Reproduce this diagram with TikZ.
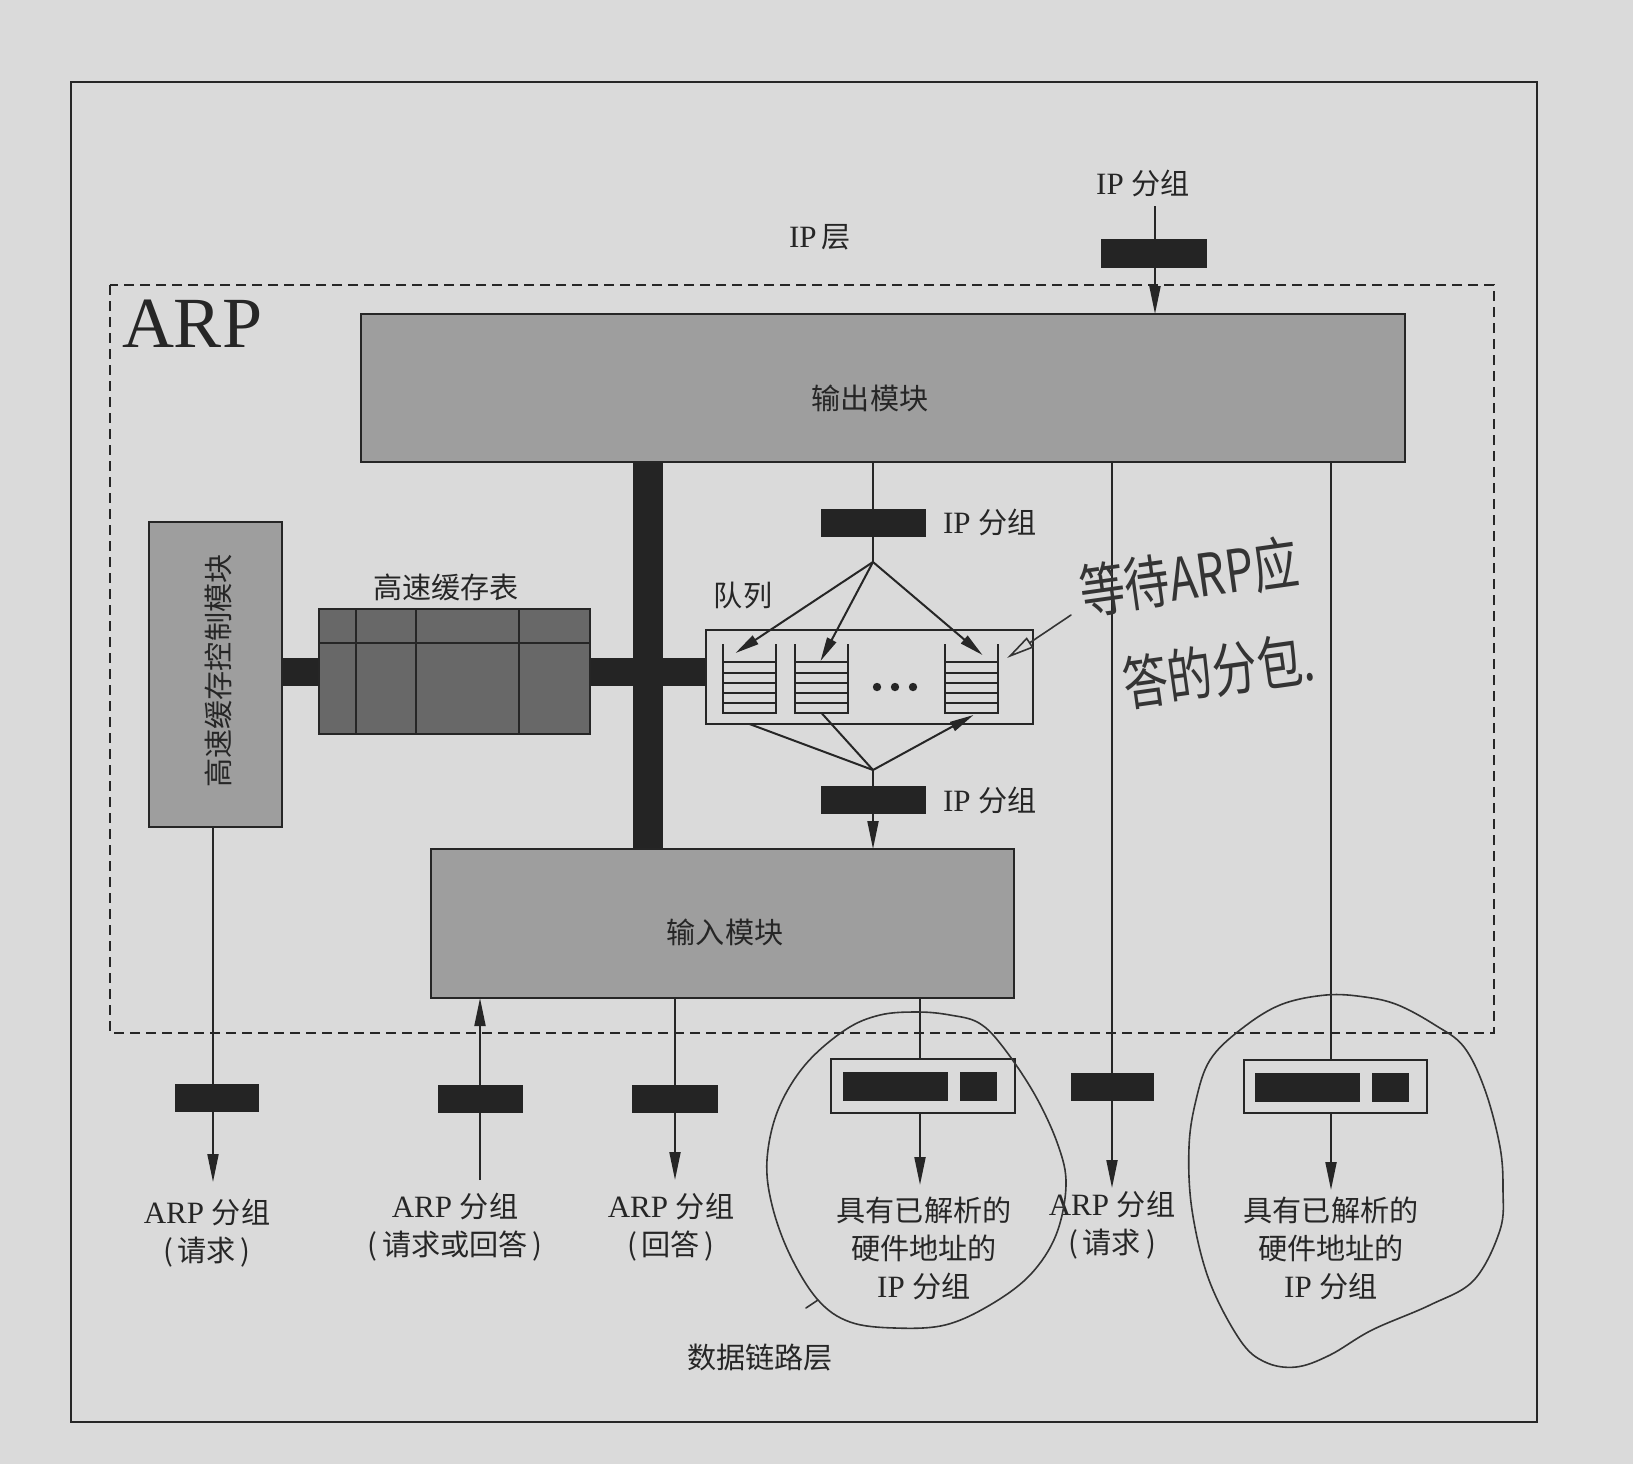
\documentclass[tikz,border=0pt]{standalone}
\usepackage{fontspec}
\setmainfont{Liberation Serif}
\newfontfamily\cjk{Noto Sans CJK SC}[Scale=0.94]
\usetikzlibrary{arrows.meta,calc}
\pgfdeclarelayer{paper}
\pgfdeclarelayer{wires}
\pgfsetlayers{paper,wires,main}
\definecolor{paperbg}{RGB}{218,218,218}
\definecolor{ink}{RGB}{38,38,38}
\definecolor{modfill}{RGB}{158,158,158}
\definecolor{tblfill}{RGB}{104,104,104}
\definecolor{pktfill}{RGB}{36,36,36}
\definecolor{pen}{RGB}{52,52,52}
\begin{document}
\begin{tikzpicture}[x=0.5pt,y=-0.5pt,
  every node/.style={inner sep=0pt,outer sep=0pt,text=ink},
  sz/.style 2 args={minimum width=#1*0.5pt,minimum height=#2*0.5pt},
  module/.style={rectangle,draw=ink,line width=1pt,fill=modfill},
  table/.style={rectangle,draw=ink,line width=1pt,fill=tblfill},
  packet/.style={rectangle,fill=pktfill},
  holder/.style={rectangle,draw=ink,line width=1pt},
  slot/.style={rectangle},
  wire/.style={draw=ink,line width=1pt},
  arr/.style={wire,-{Triangle[length=14pt,width=5.5pt]}},
  farr/.style={wire,-{Triangle[length=12pt,width=5pt]}},
  busline/.style={draw=pktfill,line width=14pt,line cap=butt},
  lbl/.style={font=\fontsize{15.5}{19}\selectfont,align=center},
  hand/.style={draw=pen,line width=0.8pt,line cap=round,line join=round},
  handtext/.style={text=pen,font=\cjk\fontsize{24}{28}\selectfont,rotate=8,yscale=1.3,anchor=west}
]
\useasboundingbox (0,0) rectangle (1633,1464);
\begin{pgfonlayer}{paper}
  \fill[paperbg] (0,0) rectangle (1633,1464);
\end{pgfonlayer}

% frame and the dashed ARP boundary
\draw[ink,line width=1.3pt] (71,82) rectangle (1537,1422);
\draw[ink,line width=1.2pt,dash pattern=on 5pt off 3pt] (110,285) rectangle (1494,1033);
\node[anchor=base west,font=\fontsize{36}{40}\selectfont] (arp) at (122,347) {ARP};
\node[lbl] (iplayer) at (820,237) {IP\,{\cjk 层}};
\node[lbl] (dllayer) at (760,1357) {\cjk 数据链路层};

% modules
\node[module,sz={1044}{148}] (out) at (883,388) {};
\node[lbl] (outtxt) at (870,398) {\cjk 输出模块};
\node[module,sz={583}{149}] (in) at (722.5,923.5) {};
\node[lbl] (intxt) at (725,932) {\cjk 输入模块};
\node[module,sz={133}{305}] (ctl) at (215.5,674.5) {};
\node[lbl,rotate=90] (ctltxt) at (218,671) {\cjk 高速缓存控制模块};

% cache table with its grid
\node[table,sz={271}{125}] (tbl) at (454.5,671.5) {};
\node[lbl] (tbltxt) at (446,587) {\cjk 高速缓存表};
\draw[ink,line width=1pt] ($(tbl.north west)!0.272!(tbl.south west)$) -- ($(tbl.north east)!0.272!(tbl.south east)$);
\foreach \f in {0.1365,0.358,0.738}
  \draw[ink,line width=1pt] ($(tbl.north west)!\f!(tbl.north east)$) -- ($(tbl.south west)!\f!(tbl.south east)$);

% queues
\node[holder,sz={327}{94}] (qbox) at (869.5,677) {};
\node[lbl] (qtxt) at (743,595) {\cjk 队列};
\node[slot,sz={53}{69}] (q1) at (749.5,678.5) {};
\node[slot,sz={53}{69}] (q2) at (821.5,678.5) {};
\node[slot,sz={53}{69}] (qn) at (971.5,678.5) {};
\foreach \q in {q1,q2,qn}{
  \draw[ink,line width=1pt] (\q.north west) -- (\q.south west) -- (\q.south east) -- (\q.north east);
  \foreach \f in {0.26,0.42,0.565,0.71,0.855}
    \draw[ink,line width=1pt] ($(\q.north west)!\f!(\q.south west)$) -- ($(\q.north east)!\f!(\q.south east)$);
}
\foreach \x in {877,895,913} \fill[ink] (\x,687) circle[radius=2.1pt];

% packets
\node[packet,sz={106}{29}] (pkT) at (1154,253.5) {};
\node[lbl] (pkTtxt) at (1143,183) {IP {\cjk 分组}};
\node[packet,sz={105}{28}] (pkO) at (873.5,523) {};
\node[lbl,anchor=west] (pkOtxt) at (943,522) {IP {\cjk 分组}};
\node[packet,sz={105}{28}] (pkI) at (873.5,799.5) {};
\node[lbl,anchor=west] (pkItxt) at (943,800) {IP {\cjk 分组}};
\node[packet,sz={84}{28}] (pk1) at (217,1098) {};
\node[packet,sz={85}{28}] (pk2) at (480.5,1099) {};
\node[packet,sz={86}{28}] (pk3) at (675,1099) {};
\node[packet,sz={83}{28}] (pk5) at (1112.5,1087) {};
\node[holder,sz={184}{54}] (r1) at (923,1086) {};
\node[packet,sz={105}{29}] (r1a) at (895.5,1086.5) {};
\node[packet,sz={37}{29}] (r1b) at (978.5,1086.5) {};
\node[holder,sz={183}{53}] (r2) at (1335.5,1086.5) {};
\node[packet,sz={105}{29}] (r2a) at (1307.5,1087.5) {};
\node[packet,sz={37}{29}] (r2b) at (1390.5,1087.5) {};

% bottom labels
\node[lbl] (l1) at (207,1233) {ARP {\cjk 分组}\\{\cjk (\,请求\,)}};
\node[lbl] (l2) at (455,1227) {ARP {\cjk 分组}\\{\cjk (\,请求或回答\,)}};
\node[lbl] (l3) at (671,1227) {ARP {\cjk 分组}\\{\cjk (\,回答\,)}};
\node[lbl] (l4) at (924,1248) {{\cjk 具有已解析的}\\{\cjk 硬件地址的}\\IP {\cjk 分组}};
\node[lbl] (l5) at (1112,1225) {ARP {\cjk 分组}\\{\cjk (\,请求\,)}};
\node[lbl] (l6) at (1331,1248) {{\cjk 具有已解析的}\\{\cjk 硬件地址的}\\IP {\cjk 分组}};

% connector end points
\coordinate (ipin) at (1155,206);
\coordinate (fork) at (873,562);
\coordinate (merge) at (873,770);
\coordinate (busx) at (648,0);
\coordinate (a1) at (213,1182);
\coordinate (a2) at (480,1180);
\coordinate (a3) at (675,1180);
\coordinate (a4) at (920,1185);
\coordinate (a5) at (1112,1188);
\coordinate (a6) at (1331,1190);

\begin{pgfonlayer}{wires}
  % thick buses
  \draw[busline] (tbl.west -| ctl.east) -- (tbl.west);
  \draw[busline] (tbl.east) -- (tbl.east -| qbox.west);
  \draw[draw=pktfill,line width=15pt] (out.south -| busx) -- (in.north -| busx);
  % IP layer into the output module
  \draw[arr] (ipin) -- (ipin |- out.north);
  % output module to the queues
  \draw[wire] (out.south -| fork) -- (fork);
  \draw[farr] (fork) -- ($(q1.north)+(-14,9)$);
  \draw[farr] (fork) -- ($(q2.north)+(-1,17)$);
  \draw[farr] (fork) -- ($(qn.north)+(11,11)$);
  % queues to the input module
  \draw[wire] (q1.south |- qbox.south) -- (merge);
  \draw[wire] (q2.south) -- (merge);
  \draw[farr] (merge) -- ($(qn.south)+(2,2)$);
  \draw[arr] (merge) -- (merge |- in.north);
  % data link side
  \draw[arr] (ctl.south -| a1) -- (a1);
  \draw[arr] (a2) -- (a2 |- in.south);
  \draw[arr] (a3 |- in.south) -- (a3);
  \draw[wire] (in.south -| a4) -- (a4 |- r1.north);
  \draw[arr] (a4 |- r1.south) -- (a4);
  \draw[arr] (out.south -| a5) -- (a5);
  \draw[wire] (out.south -| a6) -- (a6 |- r2.north);
  \draw[arr] (a6 |- r2.south) -- (a6);
\end{pgfonlayer}

% pen notes
\draw[hand] plot[smooth cycle,tension=0.6] coordinates {
  (918,1012) (950,1015) (979,1023) (1003,1047) (1035,1095) (1058,1145) (1066,1185)
  (1056,1235) (1030,1275) (990,1305) (945,1325) (895,1328) (850,1322) (818,1300)
  (790,1255) (772,1205) (767,1160) (778,1110) (805,1065) (845,1030) (880,1015)};
\draw[hand] (818,1300) -- (806,1308);
\draw[hand] plot[smooth cycle,tension=0.6] coordinates {
  (1326,995) (1365,997) (1398,1005) (1435,1025) (1464,1047) (1485,1090) (1500,1147)
  (1503,1190) (1500,1230) (1474,1280) (1430,1305) (1372,1330) (1330,1355) (1296,1367)
  (1265,1362) (1240,1340) (1209,1280) (1192,1210) (1189,1147) (1196,1100) (1210,1060)
  (1240,1030) (1280,1005)};
\coordinate (notefrom) at (1071,615);
\draw[hand,-{Triangle[open,length=14pt,width=6pt]}] (notefrom) -- ($(qbox.east)+(-26,-19)$);
\node[handtext] (note1) at (1080,592) {等待ARP应};
\node[handtext] (note2) at (1123,684) {答的分包.};
\end{tikzpicture}
\end{document}
